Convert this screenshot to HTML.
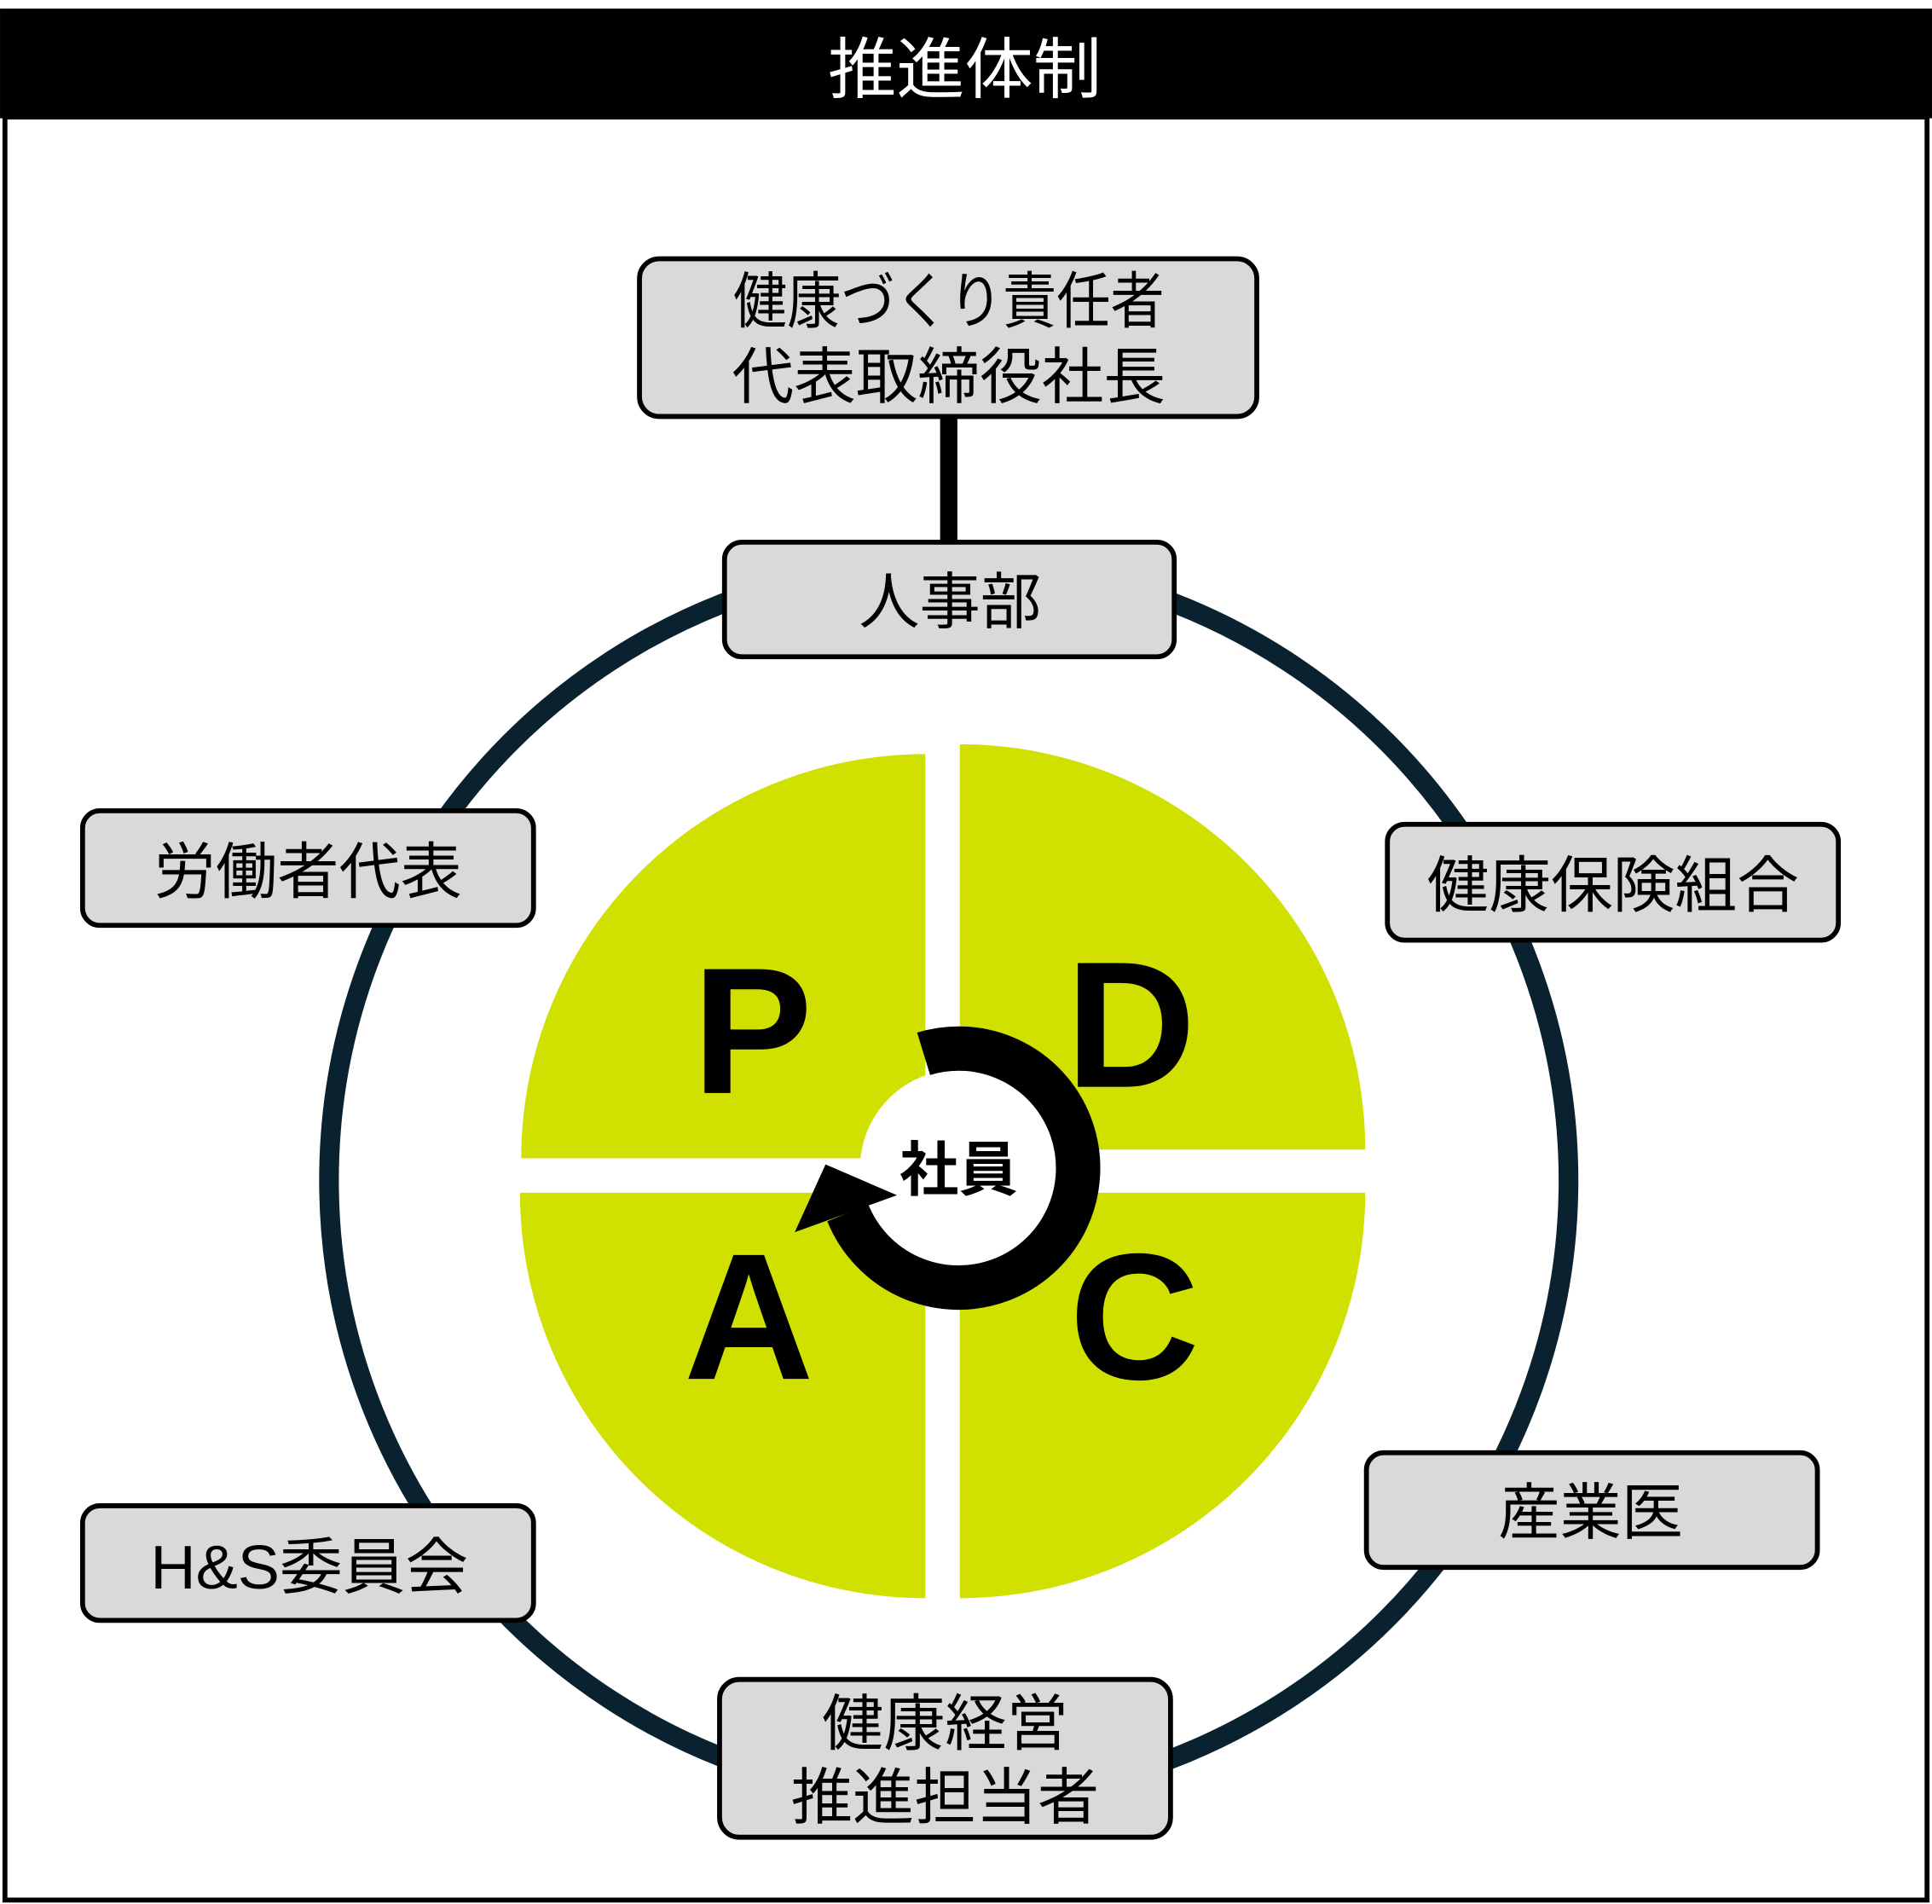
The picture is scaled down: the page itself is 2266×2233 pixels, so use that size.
<!DOCTYPE html>
<html><head><meta charset="utf-8"><style>
html,body{margin:0;padding:0;background:#fff;}
svg{display:block;}
text{font-family:"Liberation Sans","Noto Sans CJK JP",sans-serif;}
</style></head><body>
<svg width="2266" height="2233" viewBox="0 0 1568 1545.2" xmlns="http://www.w3.org/2000/svg">
<rect x="0" y="0" width="1568" height="1545.2" fill="#fff"/>
<rect x="0" y="7" width="1568" height="89" fill="#000"/>
<text x="783" y="75" font-size="54" fill="#fff" text-anchor="middle" textLength="222" lengthAdjust="spacingAndGlyphs">推進体制</text>
<rect x="4" y="95" width="1560" height="1447" fill="none" stroke="#000" stroke-width="4"/>

<circle cx="770" cy="958" r="503" fill="none" stroke="#0a2230" stroke-width="16"/>

<g fill="#d0e000">
<path d="M751 940 L423 940 A328 328 0 0 1 751 612 Z"/>
<path d="M779 933 L779 604 A329 329 0 0 1 1108 933 Z"/>
<path d="M751 968 L751 1297 A329 329 0 0 1 422 968 Z"/>
<path d="M779 968 L1108 968 A329 329 0 0 1 779 1297 Z"/>
</g>
<g font-weight="bold" font-size="146" fill="#000">
<text x="562" y="887">P</text>
<text x="865" y="882">D</text>
<text x="555" y="1119">A</text>
<text x="868" y="1119">C</text>
</g>

<circle cx="778" cy="948" r="80" fill="#fff"/>
<path d="M749.6 855.2 A97 97 0 1 1 688.1 984.4" fill="none" stroke="#000" stroke-width="36"/>
<polygon points="670,945 728,970 645,1000" fill="#000"/>
<text x="778" y="966" font-size="48" font-weight="bold" text-anchor="middle">社員</text>

<line x1="770" y1="338" x2="770" y2="442" stroke="#000" stroke-width="14"/>

<g fill="#d9d9d9" stroke="#000" stroke-width="4">
<rect x="519" y="210" width="501" height="128" rx="16"/>
<rect x="588" y="440" width="365" height="93" rx="14"/>
<rect x="67" y="658" width="366" height="93" rx="14"/>
<rect x="1126" y="669" width="366" height="94" rx="14"/>
<rect x="1109" y="1179" width="366" height="93" rx="14"/>
<rect x="67" y="1222" width="366" height="93" rx="14"/>
<rect x="584" y="1363" width="366" height="128" rx="16"/>
</g>
<g font-size="50" text-anchor="middle" fill="#000" lengthAdjust="spacingAndGlyphs">
<text x="770" y="262" textLength="350" lengthAdjust="spacingAndGlyphs">健康づくり責任者</text>
<text x="770" y="323" textLength="352" lengthAdjust="spacingAndGlyphs">代表取締役社長</text>
<text x="771" y="506" textLength="148" lengthAdjust="spacingAndGlyphs">人事部</text>
<text x="250" y="725" textLength="250" lengthAdjust="spacingAndGlyphs">労働者代表</text>
<text x="1309" y="736" textLength="302" lengthAdjust="spacingAndGlyphs">健康保険組合</text>
<text x="1291" y="1245" textLength="150" lengthAdjust="spacingAndGlyphs">産業医</text>
<text x="251" y="1289" textLength="258" lengthAdjust="spacingAndGlyphs">H&amp;S委員会</text>
<text x="767" y="1416" textLength="200" lengthAdjust="spacingAndGlyphs">健康経営</text>
<text x="767" y="1476" textLength="250" lengthAdjust="spacingAndGlyphs">推進担当者</text>
</g>
</svg>
</body></html>
